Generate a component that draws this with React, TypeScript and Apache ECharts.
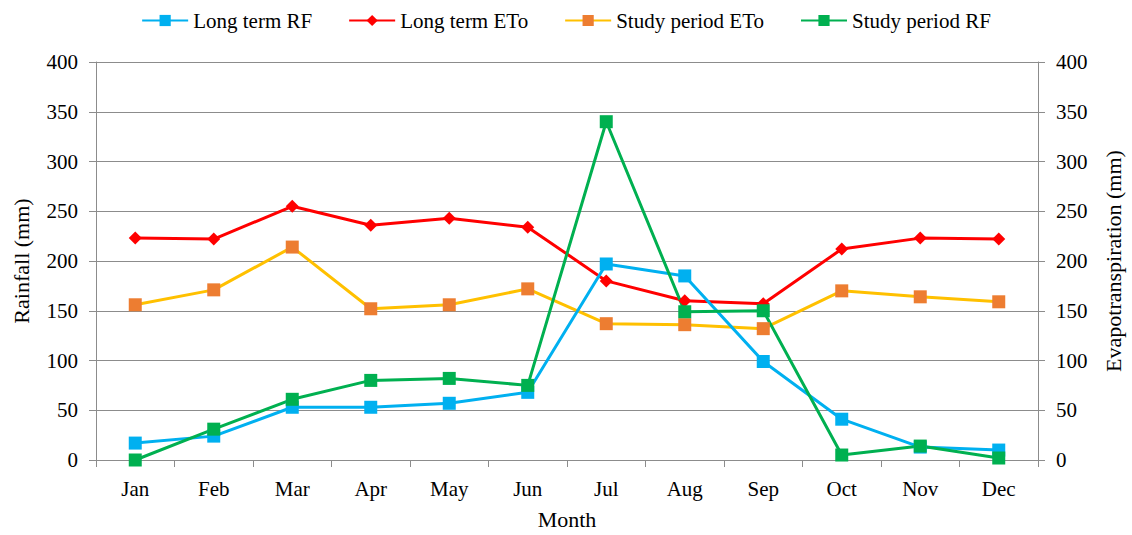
import React, { useEffect, useRef } from "react";
import * as echarts from "echarts";

const months = ["Jan", "Feb", "Mar", "Apr", "May", "Jun", "Jul", "Aug", "Sep", "Oct", "Nov", "Dec"];
const longTermRF = [17, 24, 53, 53, 57, 68, 197, 185, 99, 41, 13, 10];
const longTermETo = [223, 222, 255, 236, 243, 234, 180, 160, 157, 212, 223, 222];
const studyETo = [156, 171, 214, 152, 156, 172, 137, 136, 132, 170, 164, 159];
const studyRF = [0, 31, 61, 80, 82, 75, 340, 149, 150, 5, 14, 2];

const FONT = "Liberation Serif";

export default function App() {
  const ref = useRef<HTMLDivElement>(null);
  useEffect(() => {
    const chart = echarts.init(ref.current!, null, { renderer: "svg" });
    const axisCommon = {
      type: "value" as const,
      min: 0,
      max: 400,
      interval: 50,
      nameLocation: "middle" as const,
      nameRotate: 90,
      nameGap: 64,
      nameTextStyle: { fontFamily: FONT, fontSize: 22, color: "#000" },
      axisLine: { show: true, lineStyle: { color: "#8c8c8c", width: 1 } },
      axisTick: { show: true, length: 7, lineStyle: { color: "#8c8c8c" } },
      axisLabel: { fontFamily: FONT, fontSize: 21, color: "#000", margin: 18 },
      splitLine: { show: true, lineStyle: { color: "#8c8c8c", width: 1 } },
    };
    chart.setOption({
      animation: false,
      backgroundColor: "#fff",
      legend: {
        top: 5,
        left: "center",
        itemWidth: 46,
        itemHeight: 14,
        itemGap: 36,
        textStyle: { fontFamily: FONT, fontSize: 21, color: "#000" },
        data: ["Long term RF", "Long term ETo", "Study period ETo", "Study period RF"],
      },
      grid: { left: 96, right: 92, top: 62, bottom: 70 },
      xAxis: {
        type: "category",
        data: months,
        boundaryGap: true,
        name: "Month",
        nameLocation: "middle",
        nameGap: 48,
        nameTextStyle: { fontFamily: FONT, fontSize: 22, color: "#000" },
        axisLine: { lineStyle: { color: "#8c8c8c" } },
        axisTick: { show: true, length: 7, alignWithLabel: false, lineStyle: { color: "#8c8c8c" } },
        axisLabel: { fontFamily: FONT, fontSize: 21, color: "#000", margin: 18 },
      },
      yAxis: [
        { ...axisCommon, name: "Rainfall (mm)", position: "left" },
        { ...axisCommon, name: "Evapotranspiration (mm)", position: "right", splitLine: { show: false } },
      ],
      series: [
        {
          name: "Long term ETo",
          type: "line",
          yAxisIndex: 1,
          data: longTermETo,
          symbol: "diamond",
          symbolSize: 13,
          lineStyle: { color: "#ff0000", width: 3 },
          itemStyle: { color: "#ff0000" },
        },
        {
          name: "Study period ETo",
          type: "line",
          yAxisIndex: 1,
          data: studyETo,
          symbol: "rect",
          symbolSize: 13,
          lineStyle: { color: "#ffc000", width: 3 },
          itemStyle: { color: "#ed7d31" },
        },
        {
          name: "Long term RF",
          type: "line",
          yAxisIndex: 0,
          data: longTermRF,
          symbol: "rect",
          symbolSize: 13,
          lineStyle: { color: "#00b0f0", width: 3 },
          itemStyle: { color: "#00b0f0" },
        },
        {
          name: "Study period RF",
          type: "line",
          yAxisIndex: 0,
          data: studyRF,
          symbol: "rect",
          symbolSize: 13,
          lineStyle: { color: "#00b050", width: 3 },
          itemStyle: { color: "#00b050" },
        },
      ],
    });
    return () => chart.dispose();
  }, []);
  return <div ref={ref} style={{ width: 1132, height: 535, position: "absolute", left: 0, top: 0 }} />;
}
